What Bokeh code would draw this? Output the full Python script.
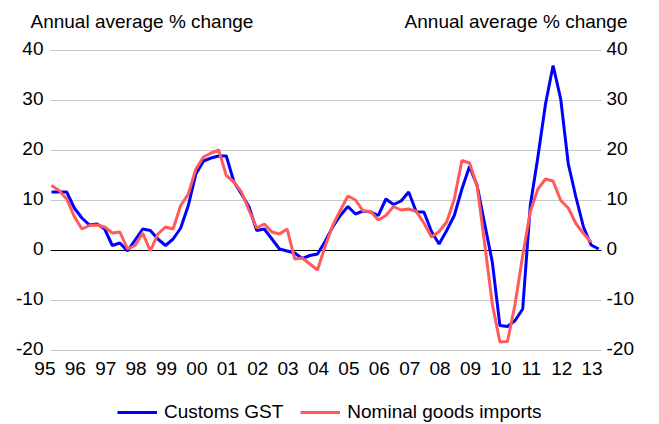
from bokeh.plotting import figure
from bokeh.models import Legend, LegendItem, Range1d
from bokeh.core.properties import value
from bokeh.embed import file_html
from bokeh.resources import INLINE

FONT = "Liberation Sans"

# Quarterly, year-ended average growth, March 1995 onwards
customs_gst = [
    11.7, 11.7, 11.7, 8.5, 6.5, 5.1, 5.3, 4.3, 1.0, 1.5, -0.1, 2.1, 4.3, 4.0, 2.3, 1.0, 2.3,
    4.5, 9.0, 15.3, 17.9, 18.5, 18.9, 18.9, 13.7, 11.3, 8.7, 4.0, 4.3, 2.3, 0.3, -0.1, -0.5, -1.6, -1.0,
    -0.7, 1.8, 4.7, 7.0, 8.8, 7.3, 7.9, 7.7, 7.0, 10.3, 9.2, 9.9, 11.7, 7.7, 7.7, 3.8, 1.3,
    4.0, 7.0, 12.3, 16.8, 13.0, 5.3, -2.3, -15.0, -15.2, -14.0, -11.7,
    9.0, 18.7, 29.3, 37.0, 30.3, 17.3, 10.7, 4.7, 1.1, 0.3,
]
goods_imports = [
    13.0, 12.0, 10.3, 6.8, 4.3, 5.0, 5.1, 4.7, 3.5, 3.7, 0.3, 1.0, 3.5, -0.1, 3.3, 4.7, 4.3,
    9.0, 11.3, 16.3, 18.7, 19.5, 20.1, 15.0, 13.7, 11.7, 8.0, 4.5, 5.3, 3.7, 3.3, 4.3, -1.7, -1.5, -2.7,
    -3.9, 0.8, 5.0, 8.0, 10.9, 10.1, 7.9, 7.8, 6.1, 7.0, 8.8, 8.1, 8.3, 7.8, 5.5, 2.7, 3.8,
    5.7, 10.3, 18.0, 17.5, 13.0, 1.3, -10.7, -18.3, -18.2, -10.7, -1.0,
    7.8, 12.3, 14.3, 13.9, 10.0, 8.5, 5.4, 3.4, 1.7,
]
label_years = list(range(1995, 2014))
year_labels = ["95", "96", "97", "98", "99", "00", "01", "02", "03", "04",
               "05", "06", "07", "08", "09", "10", "11", "12", "13"]
y_ticks = [-20, -10, 0, 10, 20, 30, 40]
y_tick_labels = ["-20", "-10", "0", "10", "20", "30", "40"]
series_names = ["Customs GST", "Nominal goods imports"]
unit_title = "Annual average % change"

# quarter-end positions as decimal years
gst_x = [1995.25 + 0.25 * i for i in range(len(customs_gst))]
imp_x = [1995.25 + 0.25 * i for i in range(len(goods_imports))]

# Canvas layout: the whole canvas is the data frame; the charting area
# spans [AREA_LEFT, AREA_RIGHT] x [-20, 40] inside it.
W, H = 659, 424
PX_YEAR = 30.4          # pixels per year
PX_UNIT = 5.0           # pixels per percentage point
AREA_LEFT_PX, AREA_RIGHT_PX = 50, 601
ZERO_PX_FROM_TOP = 250

AREA_LEFT = 1995.217
AREA_RIGHT = AREA_LEFT + (AREA_RIGHT_PX - AREA_LEFT_PX) / PX_YEAR
x0 = AREA_LEFT - AREA_LEFT_PX / PX_YEAR
y1 = ZERO_PX_FROM_TOP / PX_UNIT
y0 = y1 - H / PX_UNIT

p = figure(width=W, height=H, output_backend="svg", toolbar_location=None,
           x_range=Range1d(x0, x0 + W / PX_YEAR), y_range=Range1d(y0, y1),
           x_axis_type=None, y_axis_type=None,
           min_border=0, min_border_left=0, min_border_right=0,
           min_border_top=0, min_border_bottom=0)
p.outline_line_color = None
p.grid.visible = False
p.background_fill_color = "white"
p.border_fill_color = "white"

# horizontal gridlines, zero line in black
grid_ticks = [t for t in y_ticks if t != 0]
p.segment(x0=[AREA_LEFT] * len(grid_ticks), x1=[AREA_RIGHT] * len(grid_ticks),
          y0=grid_ticks, y1=grid_ticks, line_color="#C8C8C8", line_width=1)
p.segment(x0=[AREA_LEFT], x1=[AREA_RIGHT], y0=[0], y1=[0],
          line_color="black", line_width=1)

# value labels on both sides
p.text(x=[AREA_LEFT] * len(y_ticks), y=y_ticks, text=y_tick_labels,
       x_offset=-7, y_offset=-2, text_align="right", text_baseline="middle",
       text_font=value(FONT), text_font_size="19px", text_color="black")
p.text(x=[AREA_RIGHT] * len(y_ticks), y=y_ticks, text=y_tick_labels,
       x_offset=5, y_offset=-2, text_align="left", text_baseline="middle",
       text_font=value(FONT), text_font_size="19px", text_color="black")

# year labels
p.text(x=label_years, y=[-20] * len(label_years), text=year_labels,
       x_offset=1, y_offset=18, text_align="center", text_baseline="alphabetic",
       text_font=value(FONT), text_font_size="19px", text_color="black")

# unit titles
p.text(x=[AREA_LEFT], y=[40], text=[unit_title], x_offset=-20, y_offset=-29,
       text_align="left", text_baseline="alphabetic",
       text_font=value(FONT), text_font_size="19px", text_color="black")
p.text(x=[AREA_RIGHT], y=[40], text=[unit_title], x_offset=26, y_offset=-29,
       text_align="right", text_baseline="alphabetic",
       text_font=value(FONT), text_font_size="19px", text_color="black")

r_gst = p.line(gst_x, customs_gst, line_color="#0000FF", line_width=3)
r_imp = p.line(imp_x, goods_imports, line_color="#FF5B5B", line_width=3)

legend = Legend(items=[LegendItem(label=series_names[0], renderers=[r_gst]),
                       LegendItem(label=series_names[1], renderers=[r_imp])],
                location=(117, 1), orientation="horizontal",
                border_line_color=None, background_fill_alpha=0,
                padding=0, margin=0, spacing=17, glyph_width=40, glyph_height=20,
                label_standoff=7, label_text_font=FONT, label_text_font_size="19px",
                label_text_color="black")
p.add_layout(legend)

open("out.html", "w").write(file_html(p, INLINE))
